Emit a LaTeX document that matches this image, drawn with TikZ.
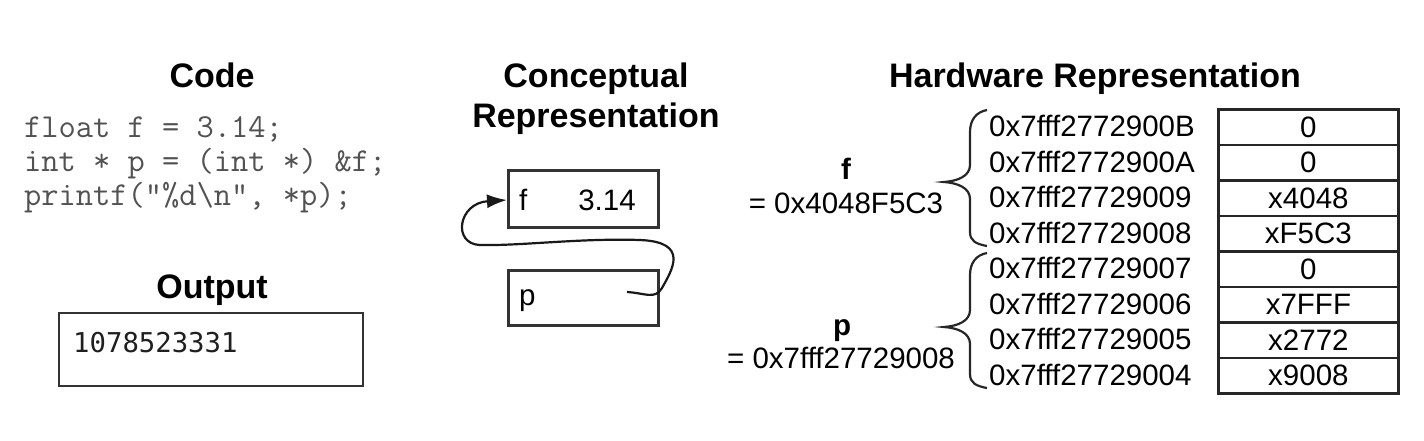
\documentclass[tikz,border=0pt]{standalone}
\usepackage{fontspec}
\setmainfont{Liberation Sans}
\newfontfamily\outfont{DejaVu Sans Mono}
\usetikzlibrary{arrows.meta}
\begin{document}
\begin{tikzpicture}[x=1pt,y=-1pt,
  title/.style={font=\fontsize{34}{40}\selectfont\bfseries, inner sep=0pt, anchor=base},
  txt/.style={font=\fontsize{29.5}{34}\selectfont, inner sep=0pt},
  codeline/.style={font=\ttfamily\fontsize{33.5}{38}\selectfont, text=black!68, inner sep=0pt, anchor=base west},
  box/.style={draw=black!80, line width=2.5pt, inner sep=0pt},
  cell/.style={draw=black!85, line width=2.8pt, inner sep=0pt, anchor=north west,
     minimum width=180pt, minimum height=35.5pt, font=\fontsize{29.5}{34}\selectfont},
  bracestyle/.style={draw=black!85, line width=2.2pt},
  ptr/.style={draw=black!90, line width=2.2pt, -{Latex[length=20pt,width=14pt]}}
]
\useasboundingbox (0,0) rectangle (1424,440);

% Code
\node[title] (tcode) at (212,87) {Code};
\node[codeline] (l1) at (24,137) {float f = 3.14;};
\node[codeline] (l2) at (24,171) {int * p = (int *) \&f;};
\node[codeline] (l3) at (24,205) {printf("\%d\textbackslash n", *p);};

% Output
\node[title] (tout) at (212,298) {Output};
\draw[box] (59,313) rectangle (363,386);
\node[font=\outfont\fontsize{27.3}{32}\selectfont, text=black!88, inner sep=0pt, anchor=base west] (outv) at (73,352) {1078523331};

% Conceptual
\node[title] (tc1) at (596,87) {Conceptual};
\node[title] (tc2) at (596,127) {Representation};
\node[box, minimum width=150pt, minimum height=57pt, anchor=north west] (fbox) at (507,169) {};
\node[box, minimum width=150pt, minimum height=55pt, anchor=north west] (pbox) at (507,269) {};
\node[txt, anchor=base west] (fl) at (519,210) {f};
\node[txt, anchor=base] (fv) at (607,210) {3.14};
\node[txt, anchor=base west] (pl) at (519,305) {p};
\coordinate (pst) at (627,292);
\draw[ptr] (pst) .. controls (645,293) and (655,300) .. (662,288)
   .. controls (672,270) and (690,242) .. (640,240)
   .. controls (580,238) and (520,246) .. (480,245)
   .. controls (452,244) and (458,203) .. (fbox.west |- 0,200);

% Hardware
\node[title] (th) at (1095,87) {Hardware Representation};
\foreach \i/\addr/\val in {0/0x7fff2772900B/0, 1/0x7fff2772900A/0, 2/0x7fff27729009/x4048,
   3/0x7fff27729008/xF5C3, 4/0x7fff27729007/0, 5/0x7fff27729006/x7FFF,
   6/0x7fff27729005/x2772, 7/0x7fff27729004/x9008} {
  \node[cell] (c\i) at (1217,{108+35.5*\i}) {\val};
  \node[txt, anchor=west] (a\i) at (989,{126+35.5*\i}) {\addr};
}
\node[txt, font=\fontsize{29.5}{34}\selectfont\bfseries, anchor=base] (fn) at (846,179) {f};
\node[txt, anchor=base] (fa) at (846,213) {= 0x4048F5C3};
\node[txt, font=\fontsize{29.5}{34}\selectfont\bfseries, anchor=base] (pn) at (842,335) {p};
\node[txt, anchor=base] (pa) at (841,368) {= 0x7fff27729008};

% braces
\draw[bracestyle] (987,110) .. controls (976,112) and (970,120) .. (970,132)
   -- (970,165) .. controls (970,176) and (958,181) .. (944,182)
   .. controls (958,183) and (970,188) .. (970,199)
   -- (970,232) .. controls (970,241) and (976,244) .. (987,246);
\draw[bracestyle] (987,253) .. controls (976,255) and (970,263) .. (970,275)
   -- (970,310) .. controls (970,321) and (958,326) .. (944,327)
   .. controls (958,328) and (970,333) .. (970,344)
   -- (970,374) .. controls (970,383) and (976,386) .. (987,388);
\end{tikzpicture}
\end{document}
